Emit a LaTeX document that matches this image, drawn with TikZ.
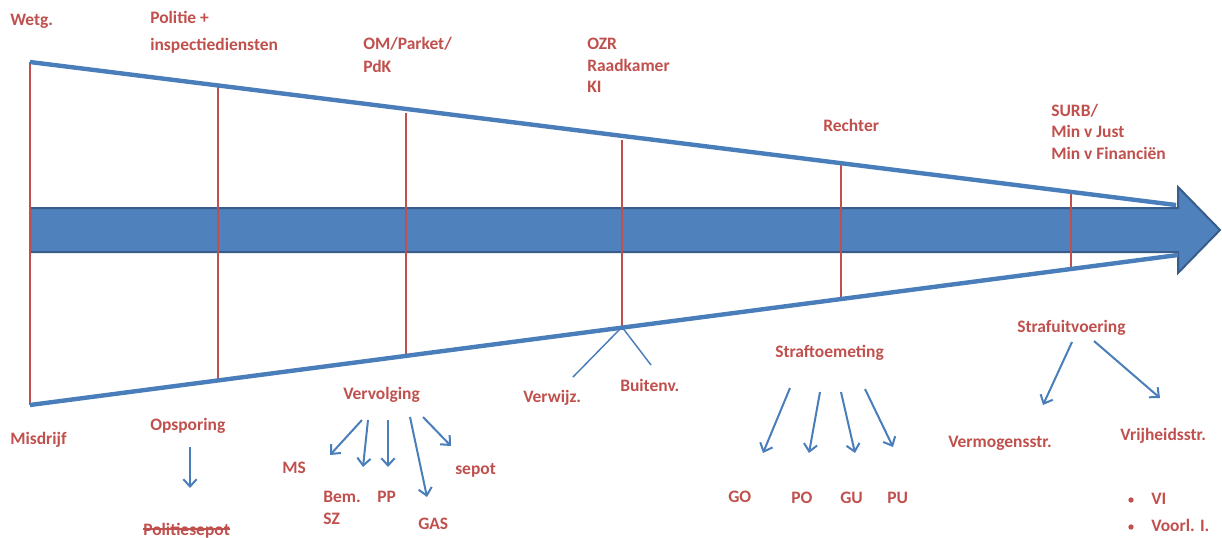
\documentclass[tikz,border=0pt]{standalone}
\usepackage{fontspec}
\setmainfont{Carlito}
\usetikzlibrary{arrows.meta,calc}
\definecolor{lineblue}{HTML}{4A7EBB}
\definecolor{fillblue}{HTML}{4F81BD}
\definecolor{edgeblue}{HTML}{385D8A}
\definecolor{labelred}{HTML}{C0504D}
\begin{document}
\begin{tikzpicture}[x=0.75pt,y=-0.75pt,
  lbl/.style={anchor=base west, inner sep=0pt, text=labelred,
    font=\fontsize{13.1}{16}\selectfont\bfseries},
  wedge/.style={draw=lineblue, line width=3.3pt},
  stage/.style={draw=labelred, line width=1.8pt},
  split/.style={draw=lineblue, line width=1.1pt},
  outcome/.style={draw=lineblue, line width=1.5pt,
    -{Straight Barb[length=5.5pt,width=10pt,line width=1.5pt]}},
  dot/.style={circle, fill=labelred, inner sep=0pt, minimum size=4pt}]
\useasboundingbox (0,0) rectangle (1222,537);

% main process arrow
\path[fill=fillblue, draw=edgeblue, line width=1.5pt, line join=miter]
  (30,208) -- (1178,208) -- (1178,187) -- (1220,230) -- (1178,273)
  -- (1178,252) -- (30,252) -- cycle;

% funnel corners
\coordinate (tl) at (30,62);
\coordinate (tr) at (1176,205);
\coordinate (bl) at (30,405);
\coordinate (br) at (1178,255);

% stage markers between the funnel edges
\coordinate (t1) at (30,62);   \coordinate (b1) at (30,405);
\coordinate (t2) at (218,86);  \coordinate (b2) at (218,380);
\coordinate (t3) at (406,113); \coordinate (b3) at (406,354);
\coordinate (t4) at (622,140); \coordinate (b4) at (622,327);
\coordinate (t5) at (841,163); \coordinate (b5) at (841,299);
\coordinate (t6) at (1071,193);\coordinate (b6) at (1071,269);
\foreach \i in {1,...,6} \draw[stage] (t\i) -- (b\i);

% funnel edges
\draw[wedge] (tl) -- (tr);
\draw[wedge] (bl) -- (br);

% labels above
\node[lbl] (wetg) at (10,25) {Wetg.};
\node[lbl] (pol1) at (150,23) {Politie +};
\node[lbl] (pol2) at (150,50) {inspectiediensten};
\node[lbl] (om1) at (363,49) {OM/Parket/};
\node[lbl] (om2) at (363,72) {PdK};
\node[lbl] (ozr1) at (587,49) {OZR};
\node[lbl] (ozr2) at (587,71) {Raadkamer};
\node[lbl] (ozr3) at (587,92) {KI};
\node[lbl] (rechter) at (823,131) {Rechter};
\node[lbl] (surb1) at (1051,116) {SURB/};
\node[lbl] (surb2) at (1051,137) {Min v Just};
\node[lbl] (surb3) at (1051,159) {Min v Financiën};

% labels below
\node[lbl] (misdrijf) at (10,444) {Misdrijf};
\node[lbl] (opsporing) at (150,430) {Opsporing};
\node[lbl] (polsepot) at (143,535) {Politiesepot};
\draw[labelred, line width=1pt]
  ($(polsepot.base west)+(0,-6)$) -- ($(polsepot.base east)+(0,-6)$);
\coordinate (ops-a) at (190,447);
\coordinate (ops-b) at (190,488);
\draw[outcome] (ops-a) -- (ops-b);

% prosecution
\node[lbl] (vervolging) at (343,399) {Vervolging};
\node[lbl] (ms) at (282,473) {MS};
\node[lbl] (bem1) at (323,502) {Bem.};
\node[lbl] (bem2) at (323,524) {SZ};
\node[lbl] (pp) at (377,502) {PP};
\node[lbl] (gas) at (418,529) {GAS};
\node[lbl] (sepot) at (455,474) {sepot};
\coordinate (v1a) at (362,420); \coordinate (v1b) at (330,455);
\coordinate (v2a) at (368,420); \coordinate (v2b) at (363,467);
\coordinate (v3a) at (388,420); \coordinate (v3b) at (388,467);
\coordinate (v4a) at (410,417); \coordinate (v4b) at (427,497);
\coordinate (v5a) at (423,417); \coordinate (v5b) at (451,446);
\foreach \i in {1,...,5} \draw[outcome] (v\i a) -- (v\i b);

% referral split
\coordinate (vw) at (573,377);
\coordinate (bv) at (651,365);
\draw[split] (b4) -- (vw);
\draw[split] (b4) -- (bv);
\node[lbl] (verwijz) at (523,402) {Verwijz.};
\node[lbl] (buitenv) at (620,391) {Buitenv.};

% sentencing
\node[lbl] (straftoem) at (775,357) {Straftoemeting};
\node[lbl] (go) at (728,502) {GO};
\node[lbl] (po) at (791,503) {PO};
\node[lbl] (gu) at (840,503) {GU};
\node[lbl] (pu) at (887,503) {PU};
\coordinate (s1a) at (790,388); \coordinate (s1b) at (763,453);
\coordinate (s2a) at (820,392); \coordinate (s2b) at (809,453);
\coordinate (s3a) at (841,392); \coordinate (s3b) at (855,453);
\coordinate (s4a) at (865,389); \coordinate (s4b) at (893,447);
\foreach \i in {1,...,4} \draw[outcome] (s\i a) -- (s\i b);

% execution
\node[lbl] (strafuit) at (1017,332) {Strafuitvoering};
\node[lbl] (vermogen) at (948,447) {Vermogensstr.};
\node[lbl] (vrijheid) at (1120,440) {Vrijheidsstr.};
\coordinate (e1a) at (1072,342); \coordinate (e1b) at (1043,405);
\coordinate (e2a) at (1094,341); \coordinate (e2b) at (1160,398);
\draw[outcome] (e1a) -- (e1b);
\draw[outcome] (e2a) -- (e2b);
\node[dot] (d1) at (1131,500) {};
\node[dot] (d2) at (1131,527) {};
\node[lbl] (vi) at (1151,504) {VI};
\node[lbl] (voorl) at (1151,531) {Voorl. I.};
\end{tikzpicture}
\end{document}
